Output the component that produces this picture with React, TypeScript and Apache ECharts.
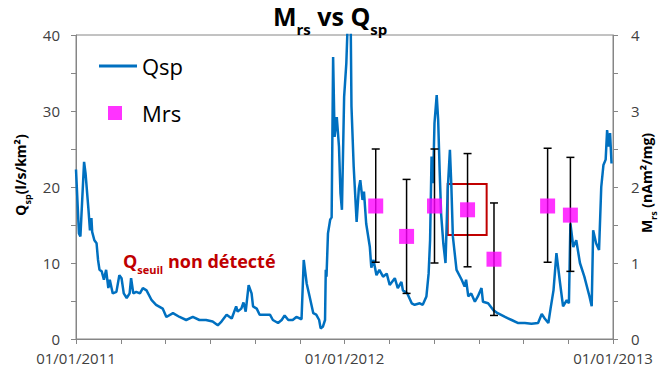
import React, { useEffect, useRef } from 'react';
import * as echarts from 'echarts';

const FONT = '"Open Sans", "Liberation Sans", sans-serif';

// Qsp (l/s/km²) — daily discharge
const qspDates = [
  '2011-01-01','2011-01-05','2011-01-07','2011-01-12','2011-01-14','2011-01-18','2011-01-20','2011-01-22','2011-01-23','2011-01-26',
  '2011-01-29','2011-01-31','2011-02-02','2011-02-05','2011-02-08','2011-02-11','2011-02-14','2011-02-16','2011-02-20','2011-02-25',
  '2011-03-01','2011-03-04','2011-03-07','2011-03-11','2011-03-15','2011-03-17','2011-03-20','2011-03-24','2011-03-29','2011-04-02',
  '2011-04-07','2011-04-14','2011-04-20','2011-04-29','2011-05-04','2011-05-13','2011-05-22','2011-05-31','2011-06-09','2011-06-18',
  '2011-06-27','2011-07-06','2011-07-13','2011-07-18','2011-07-25','2011-08-01','2011-08-07','2011-08-09','2011-08-14','2011-08-17',
  '2011-08-20','2011-08-24','2011-08-28','2011-08-30','2011-09-04','2011-09-08','2011-09-15','2011-09-22','2011-09-26','2011-10-03',
  '2011-10-08','2011-10-12','2011-10-17','2011-10-23','2011-10-28','2011-11-04','2011-11-07','2011-11-11','2011-11-15','2011-11-20',
  '2011-11-24','2011-11-28','2011-11-30','2011-12-03','2011-12-06','2011-12-07','2011-12-08','2011-12-10','2011-12-13','2011-12-15',
  '2011-12-17','2011-12-19','2011-12-22','2011-12-25','2011-12-27','2011-12-29','2012-01-01','2012-01-04','2012-01-06','2012-01-10',
  '2012-01-11','2012-01-14','2012-01-18','2012-01-21','2012-01-23','2012-01-26','2012-01-28','2012-01-31','2012-02-05','2012-02-07',
  '2012-02-10','2012-02-14','2012-02-18','2012-02-23','2012-02-28','2012-03-03','2012-03-10','2012-03-14','2012-03-19','2012-03-21',
  '2012-03-27','2012-04-02','2012-04-06','2012-04-13','2012-04-17','2012-04-22','2012-04-25','2012-04-27','2012-04-29','2012-05-01',
  '2012-05-03','2012-05-06','2012-05-08','2012-05-10','2012-05-12','2012-05-15','2012-05-18','2012-05-21','2012-05-24','2012-05-26',
  '2012-05-28','2012-06-02','2012-06-09','2012-06-13','2012-06-15','2012-06-18','2012-06-22','2012-06-27','2012-07-01','2012-07-06',
  '2012-07-08','2012-07-15','2012-07-22','2012-07-28','2012-08-07','2012-08-16','2012-08-25','2012-09-03','2012-09-12','2012-09-21',
  '2012-09-26','2012-09-30','2012-10-05','2012-10-08','2012-10-12','2012-10-16','2012-10-21','2012-10-25','2012-10-30','2012-11-02',
  '2012-11-04','2012-11-08','2012-11-12','2012-11-17','2012-11-23','2012-11-30','2012-12-03','2012-12-05','2012-12-09','2012-12-13',
  '2012-12-16','2012-12-19','2012-12-22','2012-12-24','2012-12-26','2012-12-28','2012-12-30',
];
const qspValues = [
  22.3, 13.9, 13.5, 23.3, 21.8, 17.0, 14.3, 15.9, 14.1, 13.0,
  12.6, 10.4, 9.1, 8.9, 7.8, 9.1, 6.7, 7.8, 6.0, 6.2,
  8.4, 8.0, 6.0, 5.4, 6.0, 8.0, 6.0, 6.2, 6.0, 6.7,
  6.4, 5.1, 4.5, 4.0, 2.9, 3.4, 2.9, 2.5, 2.9, 2.5,
  2.5, 2.3, 1.8, 2.3, 3.2, 2.7, 4.3, 3.6, 4.0, 4.8,
  3.6, 7.1, 6.0, 4.3, 4.0, 3.2, 3.2, 3.2, 2.5, 2.1,
  2.5, 3.1, 2.5, 2.5, 2.9, 2.6, 10.4, 7.3, 5.6, 3.4,
  3.2, 2.5, 1.4, 1.6, 2.5, 9.1, 8.2, 13.9, 15.7, 16.0,
  37.1, 26.6, 29.2, 25.3, 19.2, 17.0, 31.9, 36.3, 42.0, 41.0,
  30.6, 22.7, 15.4, 19.8, 20.9, 18.3, 19.4, 15.2, 12.1, 9.4,
  10.4, 8.4, 9.1, 8.2, 8.6, 7.1, 8.0, 6.7, 7.5, 6.4,
  6.0, 4.7, 4.5, 4.7, 4.5, 5.6, 8.6, 13.0, 24.0, 20.5,
  28.4, 32.1, 28.8, 22.2, 16.5, 12.6, 10.0, 19.6, 24.9, 20.0,
  13.5, 9.1, 7.8, 6.9, 7.8, 5.6, 6.0, 4.9, 5.6, 6.7,
  4.9, 4.7, 3.8, 3.4, 2.9, 2.5, 2.1, 2.1, 2.0, 2.1,
  3.3, 2.7, 2.1, 4.0, 6.4, 11.3, 7.3, 4.3, 5.1, 4.7,
  15.2, 12.1, 13.0, 10.0, 8.2, 5.6, 4.3, 14.3, 12.6, 11.7,
  20.0, 22.9, 23.6, 27.5, 25.3, 27.1, 23.1,
];

// Mrs (nAm²/mg) with error bars
const mrsDates = ['2012-02-13', '2012-03-26', '2012-05-03', '2012-06-17', '2012-07-23', '2012-10-04', '2012-11-04'];
const mrsValues = [1.75, 1.35, 1.75, 1.70, 1.05, 1.75, 1.63];
const mrsLow = [1.01, 0.60, 1.00, 0.95, 0.31, 1.01, 0.89];
const mrsHigh = [2.50, 2.10, 2.50, 2.44, 1.79, 2.51, 2.39];

// highlighted sample box (date, Mrs) corners
const boxStart: [string, number] = ['2012-05-21', 2.04];
const boxEnd: [string, number] = ['2012-07-13', 1.37];

// x axis: tick every 2 months over 2011-2012 (12 intervals), labels at year starts
const xTickCount = 12;
const xTickLabels: Record<number, string> = { 0: '01/01/2011', 6: '01/01/2012', 12: '01/01/2013' };

const AXIS_GREY = '#868686';
const LABEL_COLOR = '#404040';

// rich-text helpers: main run is top-aligned, subscript pushed down with top padding
const mainRun = (size: number, color: string, lh: number) => ({
  fontFamily: FONT, fontSize: size, fontWeight: 'bold', color, fill: color, lineHeight: lh, verticalAlign: 'top',
});
const subRun = (size: number, color: string, lh: number, drop: number) => ({
  fontFamily: FONT, fontSize: size, fontWeight: 'bold', color, fill: color, lineHeight: lh, verticalAlign: 'top',
  padding: [drop, 0, 0, 0],
});

export default function App() {
  const ref = useRef<HTMLDivElement>(null);

  useEffect(() => {
    const chart = echarts.init(ref.current!, null, { renderer: 'svg' });

    const qspData = qspDates.map((d, i) => [d, qspValues[i]]);
    const mrsData = mrsDates.map((d, i) => [d, mrsValues[i]]);
    const errData = mrsDates.map((d, i) => [d, mrsLow[i], mrsHigh[i]]);

    const option: any = {
      animation: false,
      backgroundColor: '#ffffff',
      title: {
        text: '{b|M}{s|rs}{b| vs Q}{s|sp}',
        left: 273,
        top: 3,
        padding: 0,
        textStyle: {
          fontFamily: FONT,
          rich: {
            b: mainRun(25, '#000', 32),
            s: subRun(15, '#000', 14, 18),
          },
        },
      },
      grid: {
        left: 76, right: 47, top: 35, bottom: 38,
        show: true, borderColor: AXIS_GREY, borderWidth: 1, backgroundColor: 'transparent',
      },
      legend: {
        orient: 'vertical',
        left: 99,
        top: 55,
        padding: 0,
        itemWidth: 38,
        itemHeight: 14,
        itemGap: 25,
        textStyle: { fontFamily: FONT, fontSize: 22, color: '#000' },
        data: [
          { name: 'Qsp', icon: 'path://M0,0 L0,0 M0,5.6 L38,5.6 L38,8.4 L0,8.4 Z M38,14 L38,14' },
          { name: 'Mrs', icon: 'path://M0,0 L0,0 M9,0 L23,0 L23,14 L9,14 Z M38,14 L38,14' },
        ],
      },
      xAxis: [
        {
          type: 'time',
          min: '2011-01-01',
          max: '2013-01-01',
          position: 'bottom',
          show: false,
          splitLine: { show: false },
        },
        {
          type: 'value',
          min: 0,
          max: xTickCount,
          interval: 1,
          position: 'bottom',
          axisLine: { show: true, lineStyle: { color: AXIS_GREY, width: 1 } },
          axisTick: { show: true, inside: false, length: 5, lineStyle: { color: AXIS_GREY } },
          axisLabel: {
            formatter: (v: number) => xTickLabels[v] ?? '',
            fontFamily: FONT, fontSize: 15, lineHeight: 16, color: LABEL_COLOR, margin: 11,
            showMinLabel: true, showMaxLabel: true,
          },
          splitLine: { show: false },
        },
      ],
      yAxis: [
        {
          type: 'value', min: 0, max: 40, interval: 5, position: 'left',
          axisLine: { show: true, lineStyle: { color: AXIS_GREY, width: 1 } },
          axisTick: { show: true, inside: false, length: 5, lineStyle: { color: AXIS_GREY } },
          axisLabel: {
            formatter: (v: number) => (v % 10 === 0 ? String(v) : ''),
            fontFamily: FONT, fontSize: 15, lineHeight: 16, color: LABEL_COLOR, margin: 16,
          },
          splitLine: { show: false },
        },
        {
          type: 'value', min: 0, max: 4, interval: 0.5, position: 'right',
          axisLine: { show: true, lineStyle: { color: AXIS_GREY, width: 1 } },
          axisTick: { show: true, inside: false, length: 5, lineStyle: { color: AXIS_GREY } },
          axisLabel: {
            formatter: (v: number) => (Math.abs(v - Math.round(v)) < 1e-9 ? String(Math.round(v)) : ''),
            fontFamily: FONT, fontSize: 15, lineHeight: 16, color: LABEL_COLOR, margin: 18,
          },
          splitLine: { show: false },
        },
      ],
      graphic: [
        {
          type: 'text', x: 22, y: 175, rotation: Math.PI / 2,
          style: {
            text: '{b|Q}{s|sp}{b|(l/s/km²)}',
            align: 'center', verticalAlign: 'middle',
            rich: { b: mainRun(14, '#000', 18), s: subRun(9, '#000', 8, 10) },
          },
        },
        {
          type: 'text', x: 648, y: 183, rotation: Math.PI / 2,
          style: {
            text: '{b|M}{s|rs}{b| (nAm²/mg)}',
            align: 'center', verticalAlign: 'middle',
            rich: { b: mainRun(14, '#000', 18), s: subRun(9, '#000', 8, 10) },
          },
        },
        {
          type: 'text', x: 123, y: 263,
          style: {
            text: '{q|Q}{s|seuil}{q| non détecté}',
            align: 'left', verticalAlign: 'middle',
            rich: { q: mainRun(18, '#C00000', 22), s: subRun(11, '#C00000', 12, 12) },
          },
        },
      ],
      series: [
        {
          name: 'Qsp',
          type: 'line',
          xAxisIndex: 0,
          yAxisIndex: 0,
          data: qspData,
          symbol: 'none',
          clip: true,
          z: 2,
          lineStyle: { color: '#0070C0', width: 2.5 },
          itemStyle: { color: '#0070C0' },
        },
        {
          name: 'MrsErr',
          type: 'custom',
          xAxisIndex: 0,
          yAxisIndex: 1,
          data: errData,
          z: 3,
          encode: { x: 0, y: [1, 2] },
          renderItem: (params: any, api: any) => {
            const lo = api.coord([api.value(0), api.value(1)]);
            const hi = api.coord([api.value(0), api.value(2)]);
            const hw = 4;
            const st = { stroke: '#000', lineWidth: 1.5 };
            return {
              type: 'group',
              children: [
                { type: 'line', shape: { x1: lo[0], y1: hi[1], x2: lo[0], y2: lo[1] }, style: st },
                { type: 'line', shape: { x1: lo[0] - hw, y1: hi[1], x2: lo[0] + hw, y2: hi[1] }, style: st },
                { type: 'line', shape: { x1: lo[0] - hw, y1: lo[1], x2: lo[0] + hw, y2: lo[1] }, style: st },
              ],
            };
          },
        },
        {
          name: 'Mrs',
          type: 'scatter',
          xAxisIndex: 0,
          yAxisIndex: 1,
          data: mrsData,
          symbol: 'rect',
          symbolSize: 15,
          z: 4,
          itemStyle: { color: '#FF00FF' },
          markArea: {
            silent: true,
            itemStyle: { color: 'rgba(0,0,0,0)', borderColor: '#C00000', borderWidth: 2 },
            data: [[{ coord: boxStart }, { coord: boxEnd }]],
          },
        },
      ],
    };

    chart.setOption(option);
    return () => chart.dispose();
  }, []);

  return (
    <div
      ref={ref}
      style={{ position: 'fixed', left: 0, top: 0, width: 660, height: 377, background: '#fff' }}
    />
  );
}
